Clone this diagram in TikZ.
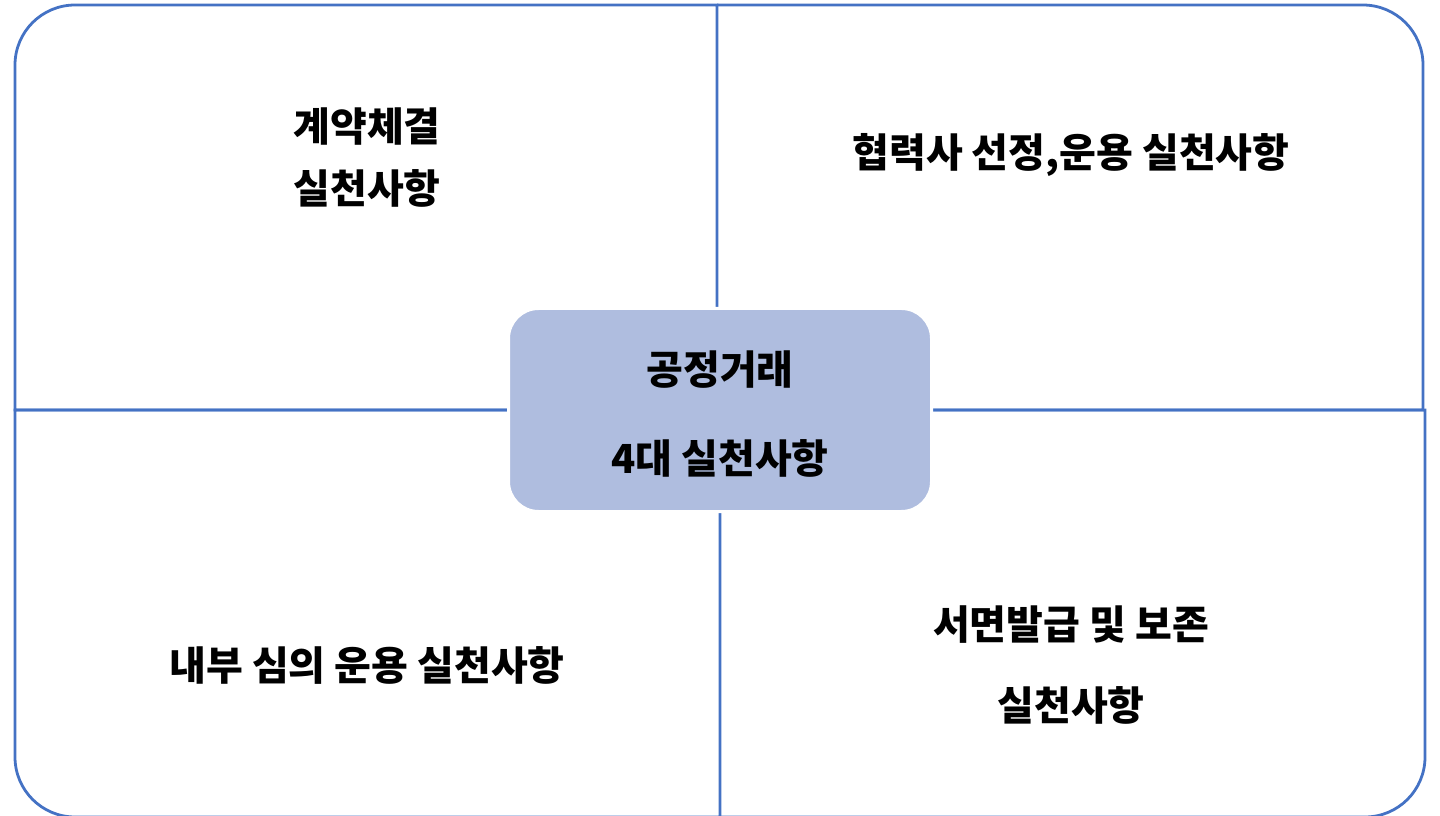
\documentclass[tikz,border=0pt]{standalone}
\usepackage{fontspec}
\newfontfamily\kr{Noto Sans CJK KR}
\definecolor{lineblue}{HTML}{4472C4}
\definecolor{boxfill}{HTML}{AFBDDF}
\tikzset{
  quad/.style={draw=lineblue, line width=2.8pt},
  lbl/.style={font=\kr\bfseries\fontsize{40}{46}\selectfont, text=black, align=center, inner sep=0pt},
  center/.style={fill=boxfill, draw=white, line width=3pt, rounded corners=30pt}
}
\begin{document}
\begin{tikzpicture}[x=1pt,y=1pt]
\useasboundingbox (0,0) rectangle (1440,815);
% quadrants
\draw[quad] (717,405) -- (15,405) -- (15,750) arc[start angle=180,end angle=90,radius=60] -- (717,810) -- cycle;
\draw[quad] (717,810) -- (1363,810) arc[start angle=90,end angle=0,radius=60] -- (1423,405) -- (717,405);
\draw[quad] (720,405) -- (15,405) -- (15,58) arc[start angle=180,end angle=270,radius=60] -- (720,-2) -- cycle;
\draw[quad] (720,405) -- (1425,405) -- (1425,58) arc[start angle=0,end angle=-90,radius=60] -- (720,-2);
% center box
\path[center] (508.5,303.5) rectangle (931.5,506.5);
\node[lbl] (c1) at (720,445) {공정거래};
\node[lbl] (c2) at (720,357) {4대 실천사항};
% labels
\node[lbl] (tl1) at (367,688) {계약체결};
\node[lbl] (tl2) at (367,627) {실천사항};
\node[lbl] (tr) at (1071,660) {협력사 선정,운용 실천사항};
\node[lbl] (bl) at (367,150) {내부 심의 운용 실천사항};
\node[lbl] (br1) at (1071,190) {서면발급 및 보존};
\node[lbl] (br2) at (1071,110) {실천사항};
\end{tikzpicture}
\end{document}
